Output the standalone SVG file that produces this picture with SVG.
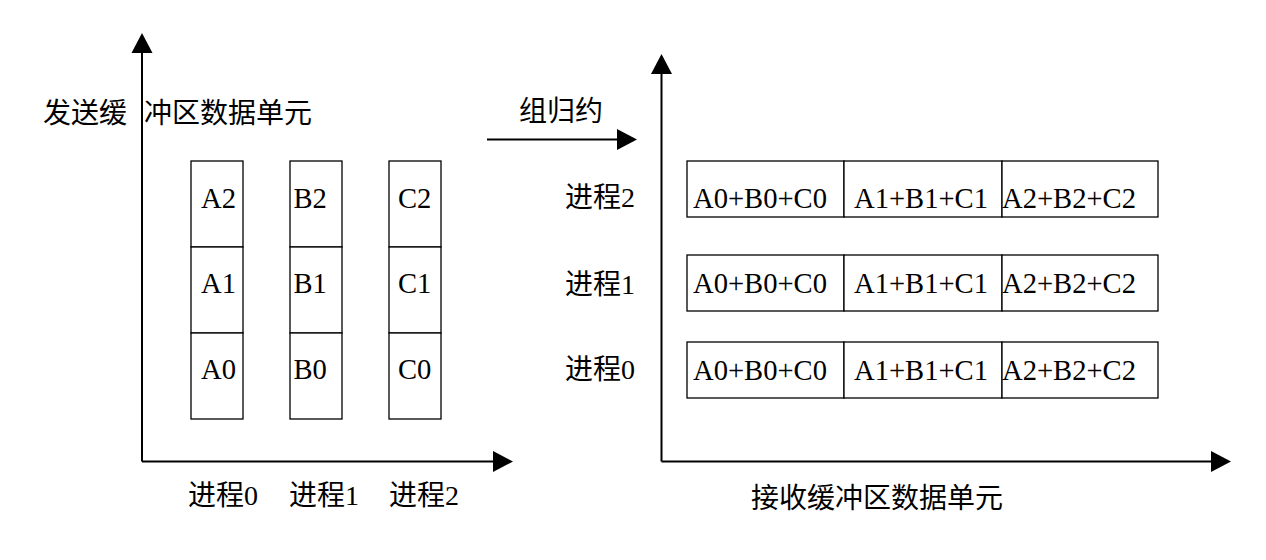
<svg xmlns="http://www.w3.org/2000/svg" width="1266" height="560" viewBox="0 0 1266 560">
<style>
.bg{fill:#fff}
.axis{stroke:#000;stroke-width:2;fill:none}
.cell{fill:#fff;stroke:#000;stroke-width:1.3}
.t{font-family:"Liberation Serif","Noto Sans CJK SC",serif;font-size:28.6px;fill:#000}
.zh{font-family:"Liberation Serif","Noto Sans CJK SC",sans-serif;font-size:28px;fill:#000}
</style>
<defs>
<marker id="ah" markerUnits="userSpaceOnUse" markerWidth="21" markerHeight="22" refX="5" refY="10.5" orient="auto" overflow="visible">
<path d="M0,0 L20,10.5 L0,21 Z" fill="#000"/>
</marker>
</defs>
<rect class="bg" x="0" y="0" width="1266" height="560"/>
<g id="connectors">
<line class="axis" x1="142" y1="461.5" x2="142" y2="48" marker-end="url(#ah)"/>
<line class="axis" x1="142" y1="461.5" x2="498" y2="461.5" marker-end="url(#ah)"/>
<line class="axis" x1="661.5" y1="461.5" x2="661.5" y2="69" marker-end="url(#ah)"/>
<line class="axis" x1="661.5" y1="461.5" x2="1216" y2="461.5" marker-end="url(#ah)"/>
<line class="axis" x1="487" y1="139.5" x2="622" y2="139.5" marker-end="url(#ah)"/>
</g>
<g id="labels">
<text class="zh"><tspan x="43" y="123">发送缓</tspan><tspan x="144" y="123">冲区数据单元</tspan></text>
<text class="zh" x="519" y="121">组归约</text>
<text class="zh" x="188" y="505">进程0</text>
<text class="zh" x="289" y="505">进程1</text>
<text class="zh" x="389" y="505">进程2</text>
<text class="zh" x="565" y="207">进程2</text>
<text class="zh" x="565" y="294">进程1</text>
<text class="zh" x="565" y="379">进程0</text>
<text class="zh" x="751" y="508">接收缓冲区数据单元</text>
</g>
<g id="send-A2"><rect class="cell" x="191" y="161" width="52" height="86"/><text class="t" x="201" y="207.5">A2</text></g>
<g id="send-A1"><rect class="cell" x="191" y="247" width="52" height="86"/><text class="t" x="201" y="293">A1</text></g>
<g id="send-A0"><rect class="cell" x="191" y="333" width="52" height="86"/><text class="t" x="201" y="379">A0</text></g>
<g id="send-B2"><rect class="cell" x="290" y="161" width="52" height="86"/><text class="t" x="293.5" y="207.5">B2</text></g>
<g id="send-B1"><rect class="cell" x="290" y="247" width="52" height="86"/><text class="t" x="293.5" y="293">B1</text></g>
<g id="send-B0"><rect class="cell" x="290" y="333" width="52" height="86"/><text class="t" x="293.5" y="379">B0</text></g>
<g id="send-C2"><rect class="cell" x="389" y="161" width="52" height="86"/><text class="t" x="398" y="207.5">C2</text></g>
<g id="send-C1"><rect class="cell" x="389" y="247" width="52" height="86"/><text class="t" x="398" y="293">C1</text></g>
<g id="send-C0"><rect class="cell" x="389" y="333" width="52" height="86"/><text class="t" x="398" y="379">C0</text></g>
<g id="recv2-0"><rect class="cell" x="687" y="161" width="157" height="56"/><text class="t" x="693" y="208">A0+B0+C0</text></g>
<g id="recv2-1"><rect class="cell" x="844" y="161" width="158" height="56"/><text class="t" x="854" y="208">A1+B1+C1</text></g>
<g id="recv2-2"><rect class="cell" x="1002" y="161" width="156" height="56"/><text class="t" x="1002" y="208">A2+B2+C2</text></g>
<g id="recv1-0"><rect class="cell" x="687" y="255" width="157" height="56"/><text class="t" x="693" y="293">A0+B0+C0</text></g>
<g id="recv1-1"><rect class="cell" x="844" y="255" width="158" height="56"/><text class="t" x="854" y="293">A1+B1+C1</text></g>
<g id="recv1-2"><rect class="cell" x="1002" y="255" width="156" height="56"/><text class="t" x="1002" y="293">A2+B2+C2</text></g>
<g id="recv0-0"><rect class="cell" x="687" y="342" width="157" height="56"/><text class="t" x="693" y="380">A0+B0+C0</text></g>
<g id="recv0-1"><rect class="cell" x="844" y="342" width="158" height="56"/><text class="t" x="854" y="380">A1+B1+C1</text></g>
<g id="recv0-2"><rect class="cell" x="1002" y="342" width="156" height="56"/><text class="t" x="1002" y="380">A2+B2+C2</text></g>
</svg>
